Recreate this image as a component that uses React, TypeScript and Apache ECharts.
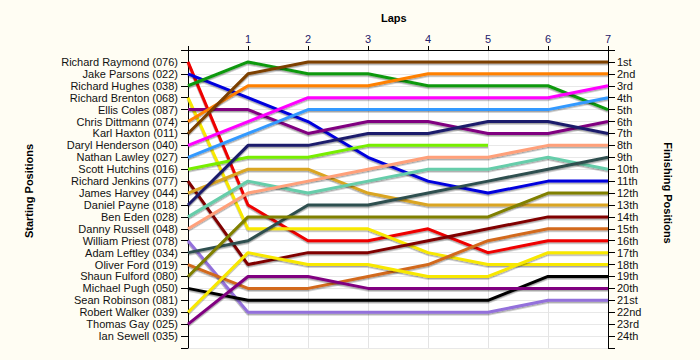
import React, { useEffect, useRef } from "react";
import * as echarts from "echarts";

const laps = [0, 1, 2, 3, 4, 5, 6, 7];

const startingNames = [
  "Richard Raymond (076)", "Jake Parsons (022)", "Richard Hughes (038)", "Richard Brenton (068)",
  "Ellis Coles (087)", "Chris Dittmann (074)", "Karl Haxton (011)", "Daryl Henderson (040)",
  "Nathan Lawley (027)", "Scott Hutchins (016)", "Richard Jenkins (077)", "James Harvey (044)",
  "Daniel Payne (018)", "Ben Eden (028)", "Danny Russell (048)", "William Priest (078)",
  "Adam Leftley (034)", "Oliver Ford (019)", "Shaun Fulford (080)", "Michael Pugh (050)",
  "Sean Robinson (081)", "Robert Walker (039)", "Thomas Gay (025)", "Ian Sewell (035)",
];

const finishLabels = [
  "1st", "2nd", "3rd", "4th", "5th", "6th", "7th", "8th", "9th", "10th", "11th", "12th",
  "13th", "14th", "15th", "16th", "17th", "18th", "19th", "20th", "21st", "22nd", "23rd", "24th",
];

// positions per lap (lap 0 = starting position)
const raymond = [1, 13, 16, 16, 15, 17, 16, 16];
const parsons = [2, 4, 6, 9, 11, 12, 11, 11];
const hughes = [3, 1, 2, 2, 3, 3, 3, 5];
const brenton = [4, 15, 15, 15, 17, 18, 18, 18];
const coles = [5, 5, 7, 6, 6, 7, 7, 6];
const dittmann = [6, 3, 3, 3, 2, 2, 2, 2];
const haxton = [7, 2, 1, 1, 1, 1, 1, 1];
const henderson = [8, 6, 4, 4, 4, 4, 4, 3];
const lawley = [9, 7, 5, 5, 5, 5, 5, 4];
const hutchins = [10, 9, 9, 8, 8, 8];
const jenkins = [11, 18, 17, 17, 16, 15, 14, 14];
const harvey = [12, 10, 10, 12, 13, 13, 13, 13];
const payne = [13, 8, 8, 7, 7, 6, 6, 7];
const eden = [14, 11, 12, 11, 10, 10, 9, 10];
const russell = [15, 12, 11, 10, 9, 9, 8, 8];
const priest = [16, 22, 22, 22, 22, 22, 21, 21];
const leftley = [17, 16, 13, 13, 12, 11, 10, 9];
const ford = [18, 20, 20, 19, 18, 16, 15, 15];
const fulford = [19, 14, 14, 14, 14, 14, 12, 12];
const pugh = [20, 21, 21, 21, 21, 21, 19, 19];
const walker = [22, 17, 18, 18, 19, 19, 17, 17];
const gay = [23, 19, 19, 20, 20, 20, 20, 20];

const driverNames = [
  "Richard Raymond", "Jake Parsons", "Richard Hughes", "Richard Brenton", "Ellis Coles",
  "Chris Dittmann", "Karl Haxton", "Daryl Henderson", "Nathan Lawley", "Scott Hutchins",
  "Richard Jenkins", "James Harvey", "Daniel Payne", "Ben Eden", "Danny Russell",
  "William Priest", "Adam Leftley", "Oliver Ford", "Shaun Fulford", "Michael Pugh",
  "Robert Walker", "Thomas Gay",
];
const driverPositions = [
  raymond, parsons, hughes, brenton, coles, dittmann, haxton, henderson, lawley, hutchins,
  jenkins, harvey, payne, eden, russell, priest, leftley, ford, fulford, pugh, walker, gay,
];
const driverColors = [
  "#ee0000", "#0000dd", "#119911", "#f8e800", "#800080", "#ff8000", "#7b3f00", "#ff00ff",
  "#3399ff", "#77ee00", "#800000", "#daa520", "#1c1c6c", "#66cdaa", "#ffa07a", "#9370db",
  "#2f4f4f", "#d2691e", "#808000", "#000000", "#f8e800", "#800080",
];

export default function App() {
  const ref = useRef<HTMLDivElement>(null);
  useEffect(() => {
    const chart = echarts.init(ref.current!, null, { renderer: "svg" });
    const font = "Liberation Sans, Arial, sans-serif";
    const series = driverNames.map((name, i) => ({
      name,
      type: "line",
      xAxisIndex: 0,
      yAxisIndex: 0,
      data: driverPositions[i].map((p, k) => [laps[k], p]),
      showSymbol: false,
      symbol: "none",
      lineStyle: {
        width: 3,
        color: driverColors[i],
        shadowColor: "rgba(0,0,0,0.35)",
        shadowBlur: 1,
        shadowOffsetX: 0,
        shadowOffsetY: 1.5,
      },
      z: 3,
    }));
    chart.setOption({
      animation: false,
      backgroundColor: "#fffdf3",
      grid: {
        left: 188,
        right: 92,
        top: 50,
        bottom: 12,
        show: true,
        backgroundColor: "#ffffff",
        borderWidth: 0,
      },
      xAxis: {
        type: "value",
        position: "top",
        min: 0,
        max: 7,
        interval: 1,
        axisLine: { show: true, lineStyle: { color: "#000", width: 1 } },
        axisTick: { show: true, length: 4, lineStyle: { color: "#000" } },
        axisLabel: {
          fontFamily: font,
          fontSize: 11,
          color: "#24206a",
          margin: 6,
          formatter: (v: number) => (v === 0 ? "" : String(v)),
        },
        splitLine: { show: true, lineStyle: { color: "#e4e4e4", width: 1 } },
      },
      yAxis: [
        {
          type: "value",
          inverse: true,
          min: 0,
          max: 25,
          interval: 1,
          position: "left",
          axisLine: { show: true, lineStyle: { color: "#000", width: 1 } },
          axisTick: { show: true, length: 7, lineStyle: { color: "#000" } },
          axisLabel: {
            fontFamily: font,
            fontSize: 11,
            color: "#111",
            margin: 10,
            showMinLabel: true,
            showMaxLabel: true,
            formatter: (v: number) => startingNames[v - 1] || "",
          },
          splitLine: { show: true, lineStyle: { color: "#e8e8e8", width: 1 } },
        },
        {
          type: "value",
          inverse: true,
          min: 0,
          max: 25,
          interval: 1,
          position: "right",
          axisLine: { show: true, lineStyle: { color: "#000", width: 1 } },
          axisTick: { show: true, length: 7, lineStyle: { color: "#000" } },
          axisLabel: {
            fontFamily: font,
            fontSize: 11,
            color: "#111",
            margin: 9,
            formatter: (v: number) => finishLabels[v - 1] || "",
          },
          splitLine: { show: false },
        },
      ],
      graphic: [
        {
          type: "text",
          left: 381,
          top: 12,
          style: { text: "Laps", font: `bold 11px ${font}`, fill: "#000" },
        },
        {
          type: "text",
          x: 29,
          y: 191,
          rotation: Math.PI / 2,
          style: {
            text: "Starting Positions",
            font: `bold 11px ${font}`,
            fill: "#000",
            align: "center",
            verticalAlign: "middle",
          },
        },
        {
          type: "text",
          x: 668,
          y: 193,
          rotation: -Math.PI / 2,
          style: {
            text: "Finishing Positions",
            font: `bold 11px ${font}`,
            fill: "#000",
            align: "center",
            verticalAlign: "middle",
          },
        },
      ],
      series,
    });
    return () => chart.dispose();
  }, []);
  return (
    <div
      ref={ref}
      style={{ position: "fixed", left: 0, top: 0, width: 700, height: 360 }}
    />
  );
}
